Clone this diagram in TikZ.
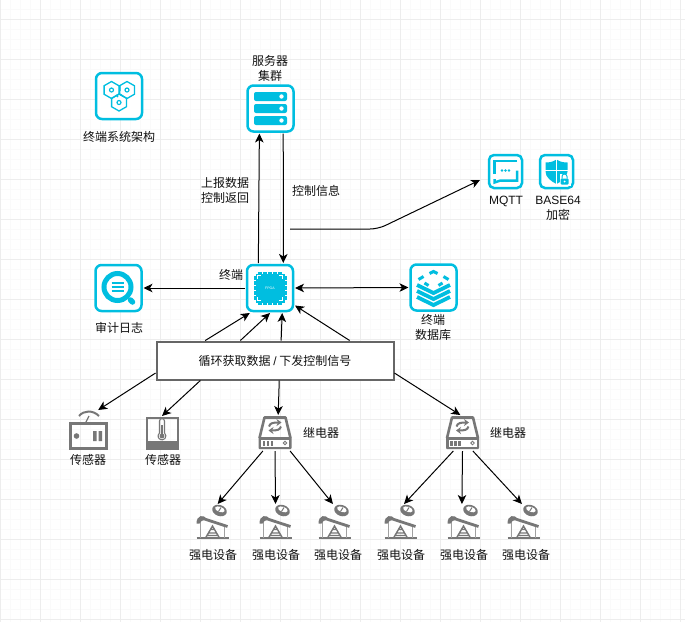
\documentclass[tikz,border=0pt]{standalone}
\usepackage{fontspec}
\setmainfont{Noto Sans CJK SC}
\newfontfamily\latinfont{Liberation Sans}
\usetikzlibrary{arrows.meta,positioning}
\definecolor{iconcyan}{HTML}{00BEE0}
\definecolor{icongray}{HTML}{777777}
\definecolor{inkdark}{HTML}{111111}
\tikzset{
>={Stealth[length=9pt,width=8.5pt,inset=2.5pt]},
link/.style={->,line width=1pt,black},
majorgrid/.style={draw=black!7,line width=1pt},
minorgrid/.style={draw=black!2,line width=1pt},
iconbox/.style={draw=iconcyan,fill=white,line width=2.5pt,rounded corners=6pt,minimum size=46pt,inner sep=0pt,outer sep=2pt},
smallbox/.style={iconbox,minimum size=33pt,rounded corners=5pt,outer sep=1pt},
grayicon/.style={inner sep=0pt,outer sep=1pt,minimum width=#1,minimum height=#1},
grayicon/.default=34pt,
tag/.style={inner sep=0pt,align=center,text=inkdark,font=\fontsize{12}{15}\selectfont},
busbox/.style={draw=black!60,fill=white,line width=2pt,minimum width=237pt,minimum height=38pt,inner sep=0pt,outer sep=1pt},
pics/clusterlogo/.style={code={
  \foreach \hx/\hy in {-7.5/-6,8/-6,0/6.5}{
    \draw[iconcyan,line width=1.3pt] (\hx,\hy-8.5) -- ++(7.4,4.25) -- ++(0,8.5) -- ++(-7.4,4.25) -- ++(-7.4,-4.25) -- ++(0,-8.5) -- cycle;
    \draw[iconcyan,line width=1.2pt] (\hx,\hy) circle (2pt);
  }
  \draw[iconcyan,line width=1.2pt] (1,-10) -- (1,-5) (-3,-1) -- (-1,1) (1,-2) -- (4,0);
}},
pics/racklogo/.style={code={
  \foreach \ry in {-12,0,12}{
    \fill[iconcyan,rounded corners=2pt] (-16.5,\ry-4.5) rectangle (16.5,\ry+4.5);
    \fill[white] (11,\ry) circle (2.2pt);
  }
}},
pics/chiplogo/.style={code={
  \foreach \tk in {-10,-5,0,5,10}{
    \fill[iconcyan] (\tk-1.6,-16.5) rectangle (\tk+1.6,16.5);
    \fill[iconcyan] (-16.5,\tk-1.6) rectangle (16.5,\tk+1.6);
  }
  \fill[iconcyan] (-14.5,-14.5) rectangle (14.5,14.5);
  \draw[white,line width=1pt] (-12.5,-9) -- (-12.5,-12.5) -- (-9,-12.5) (9,-12.5) -- (12.5,-12.5) -- (12.5,-9)
    (12.5,9) -- (12.5,12.5) -- (9,12.5) (-9,12.5) -- (-12.5,12.5) -- (-12.5,9);
  \node[text=white,font=\latinfont\fontsize{3.5}{4}\selectfont,inner sep=0pt] (chiptext) at (0,0) {FPGA};
}},
pics/lenslogo/.style={code={
  \draw[iconcyan,line width=5pt] (-1,-1) circle (13.5pt);
  \draw[iconcyan,line width=5.5pt,line cap=round] (12,12) -- (14,14);
  \foreach \by in {-5,-1,3}
    \draw[iconcyan,line width=2.2pt] (-7,\by) -- (5,\by);
}},
pics/stacklogo/.style={code={
  \foreach \sy in {0,6,12}
    \draw[iconcyan,line width=3.8pt] (-16.5,\sy-2.5) -- (0,\sy+5.5) -- (16.5,\sy-2.5);
  \draw[iconcyan,line width=3pt] (-4,-14) -- (0,-16) -- (4,-14) (10,-11) -- (15,-8) (9,-4.5) -- (5,-2)
    (-10,-11) -- (-15,-8) (-9,-4.5) -- (-5,-2);
}},
pics/chatlogo/.style={code={
  \draw[iconcyan,line width=2.5pt] (11.5,-10.5) -- (-11,-10.5) -- (-11,2);
  \draw[iconcyan,line width=2.5pt] (11.5,-1) -- (11.5,9) -- (-5,9) -- (-11,11) -- (-11,7.5);
  \foreach \dx in {-3.5,0,3.5}
    \fill[iconcyan] (\dx,-1) circle (1.3pt);
}},
pics/shieldlogo/.style={code={
  \fill[iconcyan] (0,-12) .. controls (4,-9.5) and (7,-9) .. (11,-9) -- (11,0) .. controls (11,6) and (5,10) .. (0,12.5) .. controls (-5,10) and (-11,6) .. (-11,0) -- (-11,-9) .. controls (-7,-9) and (-4,-9.5) .. (0,-12) -- cycle;
  \draw[white,line width=1.2pt] (0,-13) -- (0,13) (-12,-1) -- (12,-1);
  \fill[white] (3,2) rectangle (14,14);
  \fill[iconcyan,rounded corners=1pt] (4,7) rectangle (12,13);
  \draw[iconcyan,line width=1pt] (5.5,7) -- (5.5,5) arc (180:0:2.5pt) -- (10.5,7);
  \fill[white] (8,10) circle (1pt);
}},
pics/radiologo/.style={code={
  \draw[icongray,line width=3pt] (-18,-6.5) rectangle (18,18);
  \fill[icongray] (-11.5,6) circle (2.8pt);
  \fill[icongray] (5,1) rectangle (8.5,11) (10.5,1) rectangle (14,11);
  \draw[icongray,line width=2pt] (-9,-14) .. controls (-4,-20) and (5,-20) .. (11,-14);
  \draw[icongray,line width=1.2pt] (1,-14) -- (-2,-8);
}},
pics/thermologo/.style={code={
  \draw[icongray,line width=2pt] (-15.5,-15.5) rectangle (15.5,15.5);
  \fill[icongray] (-15.5,8) rectangle (15.5,15.5);
  \draw[icongray,line width=1.1pt] (-2.5,-12) arc (180:0:2.5pt) -- (2.5,0) arc (50:-230:3.9pt) -- cycle;
  \fill[icongray] (0,3) circle (2.4pt);
  \draw[icongray,line width=1.1pt] (0,-8) -- (0,1);
}},
pics/relaylogo/.style={code={
  \draw[icongray,line width=2.6pt,line join=round] (-15.5,5) -- (-10.5,-15.5) -- (10.5,-15.5) -- (15.5,5);
  \fill[icongray,rounded corners=1pt] (-16.5,4) rectangle (16.5,16);
  \fill[white] (-14,7) rectangle (14,13.5);
  \foreach \lx in {-11,-7,-3}
    \fill[icongray] (\lx-1.1,8) rectangle (\lx+1.1,12.5);
  \draw[icongray,line width=0.8pt] (10,10) circle (1.8pt);
  \draw[icongray,line width=2pt,-{Stealth[length=5pt,width=7pt]}] (-6,-6.5) .. controls (-5,-10) and (-2,-10.5) .. (6.5,-10.5);
  \draw[icongray,line width=2pt,-{Stealth[length=5pt,width=7pt]}] (6,-6.5) .. controls (5,-3) and (2,-2.5) .. (-6.5,-2.5);
}},
pics/pumplogo/.style={code={
  \fill[icongray,rotate around={-20:(7,-11.5)}] (7,-11.5) ellipse (7.5pt and 5.5pt);
  \fill[white,rotate around={-20:(7,-11.5)}] (7,-12.7) ellipse (5pt and 2.6pt);
  \draw[icongray,line width=1pt] (8.5,-14.5) -- (6,-10.5);
  \draw[icongray,line width=2pt] (-16,16) -- (16.5,16);
  \draw[icongray!70,line width=1.6pt] (-12,-2) -- (-12,16) (12,5) -- (12,16);
  \draw[icongray,line width=1.4pt] (-7,16) -- (0,4) -- (7,16) (-4,11) -- (4,11) (-2,7.5) -- (2,7.5) (-5.5,13.5) -- (5.5,13.5);
  \draw[icongray,line width=2.8pt] (-11,-4) -- (15,4.5);
  \fill[icongray] (-16,1.5) .. controls (-16,-7) and (-9,-8) .. (-5.5,-3) -- (-11,-1) -- (-13,1.5) -- cycle;
}}
}

\begin{document}
\begin{tikzpicture}[x=1pt,y=-1pt]
\useasboundingbox (0,0) rectangle (685,622);
\fill[white] (0,0) rectangle (685,622);
\foreach \gx in {0.5,10.5,...,680.5} \draw[minorgrid] (\gx,0) -- (\gx,622);
\foreach \gy in {9.5,19.5,...,619.5} \draw[minorgrid] (0,\gy) -- (685,\gy);
\foreach \gx in {0.5,40.5,...,680.5} \draw[majorgrid] (\gx,0) -- (\gx,622);
\foreach \gy in {19.5,59.5,...,619.5} \draw[majorgrid] (0,\gy) -- (685,\gy);

% top row
\node[iconbox] (arch) at (119,96) {};
\node[iconbox] (server) at (270.5,108.5) {};
\node[smallbox] (mqtt) at (505.5,171.5) {};
\node[smallbox] (base) at (556.5,171.5) {};
% middle row
\node[iconbox] (audit) at (118.5,288) {};
\node[iconbox] (fpga) at (270,288) {};
\node[iconbox] (store) at (433.5,287.5) {};
\node[busbox] (bus) at (275,360.5) {};
% bottom rows
\node[grayicon=38pt] (radio) at (88,430) {};
\node[grayicon=32pt] (thermo) at (162,433) {};
\node[grayicon] (relayA) at (275,433) {};
\node[grayicon] (relayB) at (462.5,433) {};
\node[grayicon] (pumpA) at (212.5,522) {};
\node[grayicon] (pumpB) at (275.5,522) {};
\node[grayicon] (pumpC) at (334.5,522) {};
\node[grayicon] (pumpD) at (400.5,522) {};
\node[grayicon] (pumpE) at (463.5,522) {};
\node[grayicon] (pumpF) at (523.5,522) {};

\pic at (arch) {clusterlogo};
\pic at (server) {racklogo};
\pic at (mqtt) {chatlogo};
\pic at (base) {shieldlogo};
\pic at (audit) {lenslogo};
\pic at (fpga) {chiplogo};
\pic at (store) {stacklogo};
\pic at (radio) {radiologo};
\pic at (thermo) {thermologo};
\pic at (relayA) {relaylogo};
\pic at (relayB) {relaylogo};
\foreach \pumpname in {pumpA,pumpB,pumpC,pumpD,pumpE,pumpF}
  \pic at (\pumpname) {pumplogo};

\node[tag] (busText) at (bus) {循环获取数据 {\latinfont/} 下发控制信号};
\node[tag] (archText) at (119,137) {终端系统架构};
\node[tag] (serverText) at (270,68.5) {服务器\\集群};
\node[tag] (upText) at (225,190.5) {上报数据\\控制返回};
\node[tag] (downText) at (316,191) {控制信息};
\node[tag] (mqttText) at (506,201) {\latinfont MQTT};
\node[tag] (baseText) at (558,208.5) {\latinfont BASE64\\加密};
\node[tag] (fpgaText) at (231,275) {终端};
\node[tag] (auditText) at (119,328) {审计日志};
\node[tag] (storeText) at (433,327.5) {终端\\数据库};
\node[tag] (radioText) at (88,460) {传感器};
\node[tag] (thermoText) at (163,460) {传感器};
\node[tag] (relayAText) at (321,433) {继电器};
\node[tag] (relayBText) at (508,433) {继电器};
\node[tag] (pumpAText) at (213,555) {强电设备};
\node[tag] (pumpBText) at (276,555) {强电设备};
\node[tag] (pumpCText) at (338,555) {强电设备};
\node[tag] (pumpDText) at (401,555) {强电设备};
\node[tag] (pumpEText) at (464,555) {强电设备};
\node[tag] (pumpFText) at (526,555) {强电设备};

\coordinate (brokerFrom) at (290,229);
\coordinate (brokerBend) at (378,229);
\coordinate (brokerTo) at (480,180);

\path[link] (fpga.115) edge (server.246)
            (server.297) edge (fpga.62)
            (fpga.west) edge (audit.east)
            (bus.164) edge (fpga.231)
            (bus.150) edge (fpga.270)
            (bus.73) edge (fpga.296)
            (bus.15) edge (fpga.325)
            (bus.186) edge (radio.63)
            (bus.195) edge (thermo.north)
            (bus.282) edge (relayA.80)
            (bus.354) edge (relayB.97)
            (relayA.236) edge (pumpA.74)
            (relayA.south) edge (pumpB.90)
            (relayA.310) edge (pumpC.95)
            (relayB.243) edge (pumpD.79)
            (relayB.south) edge (pumpE.95)
            (relayB.300) edge (pumpF.95);
\draw[link,<->] (fpga.east) -- (store.west);
\draw[link,rounded corners=8pt] (brokerFrom) -- (brokerBend) -- (brokerTo);
\end{tikzpicture}
\end{document}
